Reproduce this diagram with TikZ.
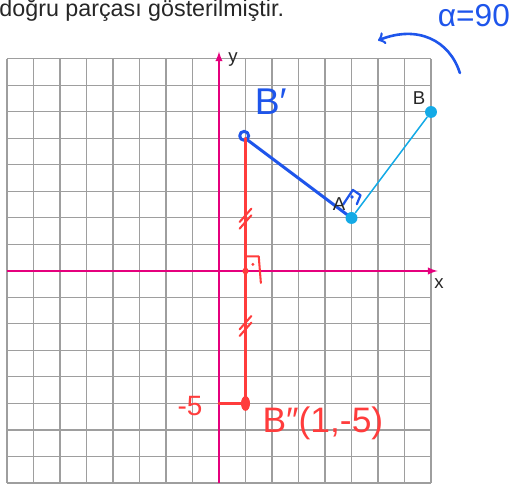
\documentclass[tikz,border=0pt]{standalone}
\usepackage{fontspec}
\setmainfont{Liberation Sans}
\usepackage{xcolor}
\usepackage{tikz}
\usetikzlibrary{arrows, positioning}
\definecolor{axismag}{RGB}{229,0,125}
\definecolor{segcyan}{RGB}{20,170,230}
\definecolor{penblue}{RGB}{30,85,235}
\definecolor{penred}{RGB}{255,60,60}
\definecolor{gridgray}{RGB}{158,158,158}
\tikzset{
    gridline/.style={draw=gridgray, line width=0.55pt},
    axis/.style={draw=axismag, line width=0.8pt, ->, >=latex},
    cdot/.style={circle, fill=segcyan, inner sep=0pt, minimum size=6.4pt},
    lbl/.style={font=\fontsize{10}{12}\selectfont, text=black!85, inner sep=0pt},
    pen/.style={draw=penblue, line width=1.6pt, line cap=round, line join=round},
    redpen/.style={draw=penred, line width=1.6pt, line cap=round, line join=round},
    bluehand/.style={text=penblue, font=\fontsize{17}{20}\selectfont, inner sep=0pt},
    redhand/.style={text=penred, font=\fontsize{19}{22}\selectfont, inner sep=0pt},
    arrow/.style={pen, line width=1.4pt, ->, >=to}
}
\begin{document}
\begin{tikzpicture}[x=0.5cm, y=0.5cm]
    \useasboundingbox (-8.264,-8.113) rectangle (11.019,10.226);
    \node (head) [anchor=base west, inner sep=0pt, text=black!85, font=\fontsize{12.5}{15}\selectfont] at (-8.30,9.62) {doğru parçası gösterilmiştir.};

    % grid
    \foreach \g in {-8,...,8} {
        \draw [gridline] (\g,-8) -- (\g,8);
        \draw [gridline] (-8,\g) -- (8,\g);
    }

    % axes
    \coordinate (xs) at (-8,0);
    \coordinate (xe) at (8.25,0);
    \coordinate (ys) at (0,-8);
    \coordinate (ye) at (0,8.28);
    \draw [axis] (xs) -- (xe);
    \draw [axis] (ys) -- (ye);
    \node (xlab) [lbl] at (8.3,-0.49) {x};
    \node (ylab) [lbl] at (0.53,7.98) {y};

    % points
    \coordinate (Bp) at (1,5);
    \coordinate (Bpp) at (1,-5);
    \coordinate (R) at (1,0);
    \coordinate (m5) at (0,-5);

    % rotated segment
    \draw [pen] (Bp) -- (5,2);
    \draw [pen] (0.95,5.1) circle (0.17);
    \draw [pen, line width=1.2pt] (4.68,2.5) -- (5.05,3.06) -- (5.34,2.86) -- (5.2,2.52);
    \fill [penblue] (5.02,2.79) circle (0.07);

    % reflection
    \draw [redpen] (Bp) -- (Bpp);
    \draw [redpen] (m5) -- (Bpp);
    \fill [penred] (Bpp) ellipse (0.17 and 0.28);
    \fill [penred] (R) circle (0.12);
    \draw [redpen, line width=1.1pt] (R) ++(0,0.55) -- ++(0.5,0) -- ++(0.08,-1.0);
    \fill [penred] (1.28,0.25) circle (0.06);
    \foreach \hy in {1.95,-2.1} {
        \draw [redpen, line width=1.1pt] (1,\hy) ++(-0.22,-0.35) -- ++(0.44,0.5);
        \draw [redpen, line width=1.1pt] (1,\hy) ++(-0.22,-0.1) -- ++(0.44,0.5);
    }

    % original segment
    \node (A) [cdot] at (5,2) {};
    \node (B) [cdot] at (8,6) {};
    \draw [draw=segcyan, line width=0.8pt] (A) -- (B);
    \node (Alab) [lbl] at (4.53,2.51) {A};
    \node (Blab) [lbl] at (7.55,6.53) {B};

    % handwriting
    \coordinate (arcS) at (9.09,7.47);
    \coordinate (arcE) at (6.0,8.7);
    \draw [arrow] (arcS) .. controls (8.7,8.7) and (7.5,9.3) .. (arcE);
    \node (alpha) [bluehand] at (9.62,9.62) {α=90};
    \node (Bplab) [bluehand, font=\fontsize{20}{24}\selectfont] at (1.95,6.4) {B′};
    \node (m5lab) [redhand, font=\fontsize{15}{18}\selectfont] at (-1.09,-5.09) {-5};
    \node (Bpplab) [redhand] at (3.92,-5.74) {B″(1,-5)};
\end{tikzpicture}
\end{document}
